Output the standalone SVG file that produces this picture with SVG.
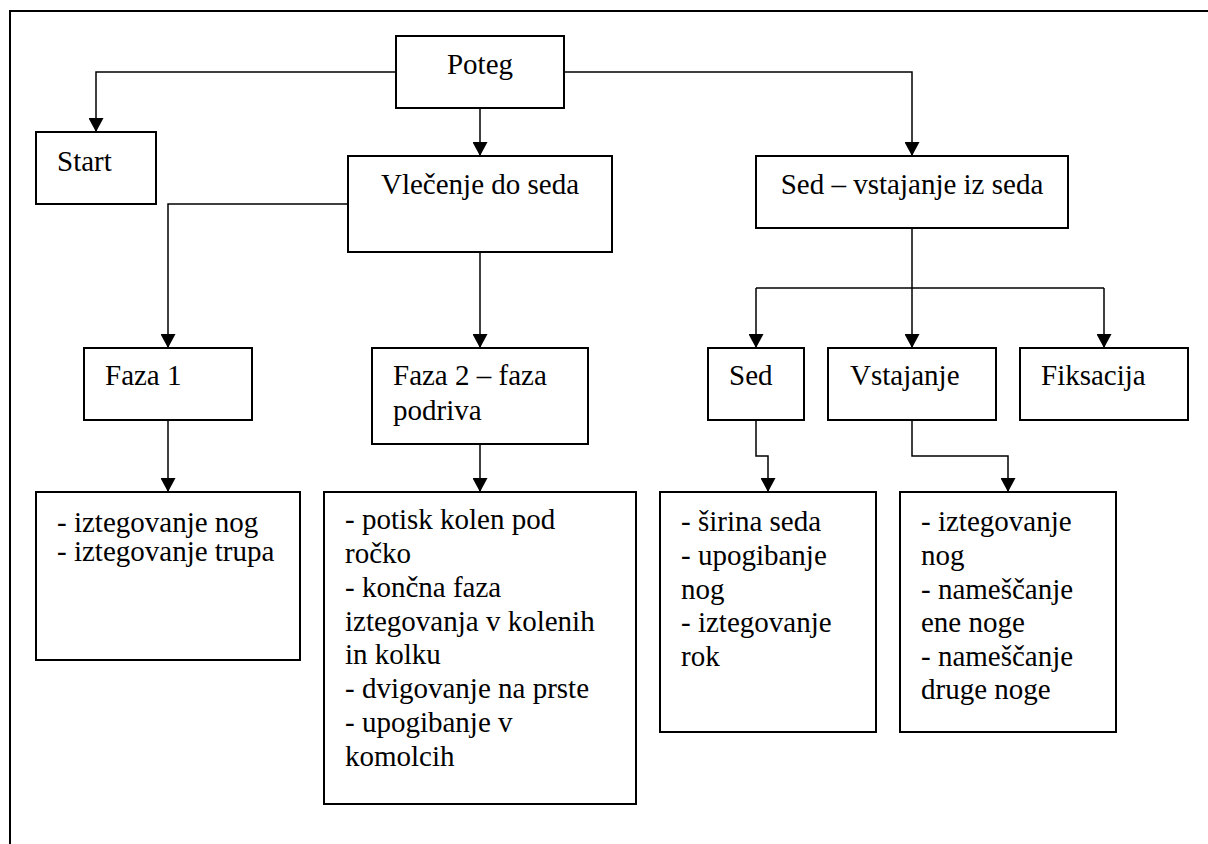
<svg xmlns="http://www.w3.org/2000/svg" width="1208" height="844" viewBox="0 0 1208 844">
<style>
  .box { fill: #ffffff; stroke: #000000; stroke-width: 2; }
  .lbl { font-family: 'Liberation Serif', 'Times New Roman', Tinos, serif; font-size: 29px; fill: #000000; }
  .mid { text-anchor: middle; }
  .conn { fill: none; stroke: #000000; stroke-width: 1.5; }
  .frame { fill: none; stroke: #000000; stroke-width: 2; }
</style>
<defs>
  <marker id="arr" viewBox="0 0 14 15" refX="14" refY="7.5" markerWidth="14" markerHeight="15" markerUnits="userSpaceOnUse" orient="auto">
    <path d="M0,0 L14,7.5 L0,15 Z" fill="#000000"/>
  </marker>
</defs>
<rect width="1208" height="844" fill="#ffffff"/>
<path class="frame" d="M10,844 L10,11 L1208,11"/>

<g id="connectors">
  <path class="conn" d="M396,72 L96,72 L96,132" marker-end="url(#arr)"/>
  <path class="conn" d="M480,108 L480,156" marker-end="url(#arr)"/>
  <path class="conn" d="M564,72 L912,72 L912,156" marker-end="url(#arr)"/>
  <path class="conn" d="M348,204 L168,204 L168,348" marker-end="url(#arr)"/>
  <path class="conn" d="M480,252 L480,348" marker-end="url(#arr)"/>
  <path class="conn" d="M912,228 L912,348" marker-end="url(#arr)"/>
  <path class="conn" d="M756,288 L1104,288"/>
  <path class="conn" d="M756,288 L756,348" marker-end="url(#arr)"/>
  <path class="conn" d="M1104,288 L1104,348" marker-end="url(#arr)"/>
  <path class="conn" d="M168,420 L168,492" marker-end="url(#arr)"/>
  <path class="conn" d="M480,444 L480,492" marker-end="url(#arr)"/>
  <path class="conn" d="M756,420 L756,456 L768,456 L768,492" marker-end="url(#arr)"/>
  <path class="conn" d="M912,420 L912,456 L1008,456 L1008,492" marker-end="url(#arr)"/>
</g>

<g id="poteg">
  <rect class="box" x="396" y="36" width="168" height="72"/>
  <text class="lbl mid" x="480" y="74">Poteg</text>
</g>
<g id="start">
  <rect class="box" x="36" y="132" width="120" height="72"/>
  <text class="lbl" x="57" y="171">Start</text>
</g>
<g id="vlecenje">
  <rect class="box" x="348" y="156" width="264" height="96"/>
  <text class="lbl mid" x="480" y="194">Vlečenje do seda</text>
</g>
<g id="sed-vstajanje">
  <rect class="box" x="756" y="156" width="312" height="72"/>
  <text class="lbl mid" x="912" y="194">Sed – vstajanje iz seda</text>
</g>
<g id="faza1">
  <rect class="box" x="84" y="348" width="168" height="72"/>
  <text class="lbl" x="105" y="385">Faza 1</text>
</g>
<g id="faza2">
  <rect class="box" x="372" y="348" width="216" height="96"/>
  <text class="lbl" x="393" y="385">Faza 2 – faza</text>
  <text class="lbl" x="393" y="420">podriva</text>
</g>
<g id="sed">
  <rect class="box" x="708" y="348" width="96" height="72"/>
  <text class="lbl" x="729" y="385">Sed</text>
</g>
<g id="vstajanje">
  <rect class="box" x="828" y="348" width="168" height="72"/>
  <text class="lbl" x="850" y="385">Vstajanje</text>
</g>
<g id="fiksacija">
  <rect class="box" x="1020" y="348" width="168" height="72"/>
  <text class="lbl" x="1041" y="385">Fiksacija</text>
</g>
<g id="faza1-detail">
  <rect class="box" x="36" y="492" width="264" height="168"/>
  <text class="lbl" x="57" y="532">- iztegovanje nog</text>
  <text class="lbl" x="57" y="561">- iztegovanje trupa</text>
</g>
<g id="faza2-detail">
  <rect class="box" x="324" y="492" width="312" height="312"/>
  <text class="lbl" x="345" y="529">- potisk kolen pod</text>
  <text class="lbl" x="345" y="562.5">ročko</text>
  <text class="lbl" x="345" y="596.5">- končna faza</text>
  <text class="lbl" x="345" y="630.5">iztegovanja v kolenih</text>
  <text class="lbl" x="345" y="664">in kolku</text>
  <text class="lbl" x="345" y="698">- dvigovanje na prste</text>
  <text class="lbl" x="345" y="732">- upogibanje v</text>
  <text class="lbl" x="345" y="765.5">komolcih</text>
</g>
<g id="sed-detail">
  <rect class="box" x="660" y="492" width="216" height="240"/>
  <text class="lbl" x="681" y="531">- širina seda</text>
  <text class="lbl" x="681" y="565">- upogibanje</text>
  <text class="lbl" x="681" y="598.5">nog</text>
  <text class="lbl" x="681" y="632">- iztegovanje</text>
  <text class="lbl" x="681" y="665.5">rok</text>
</g>
<g id="vstajanje-detail">
  <rect class="box" x="900" y="492" width="216" height="240"/>
  <text class="lbl" x="921" y="531">- iztegovanje</text>
  <text class="lbl" x="921" y="565">nog</text>
  <text class="lbl" x="921" y="598.5">- nameščanje</text>
  <text class="lbl" x="921" y="632">ene noge</text>
  <text class="lbl" x="921" y="665.5">- nameščanje</text>
  <text class="lbl" x="921" y="699">druge noge</text>
</g>
</svg>
